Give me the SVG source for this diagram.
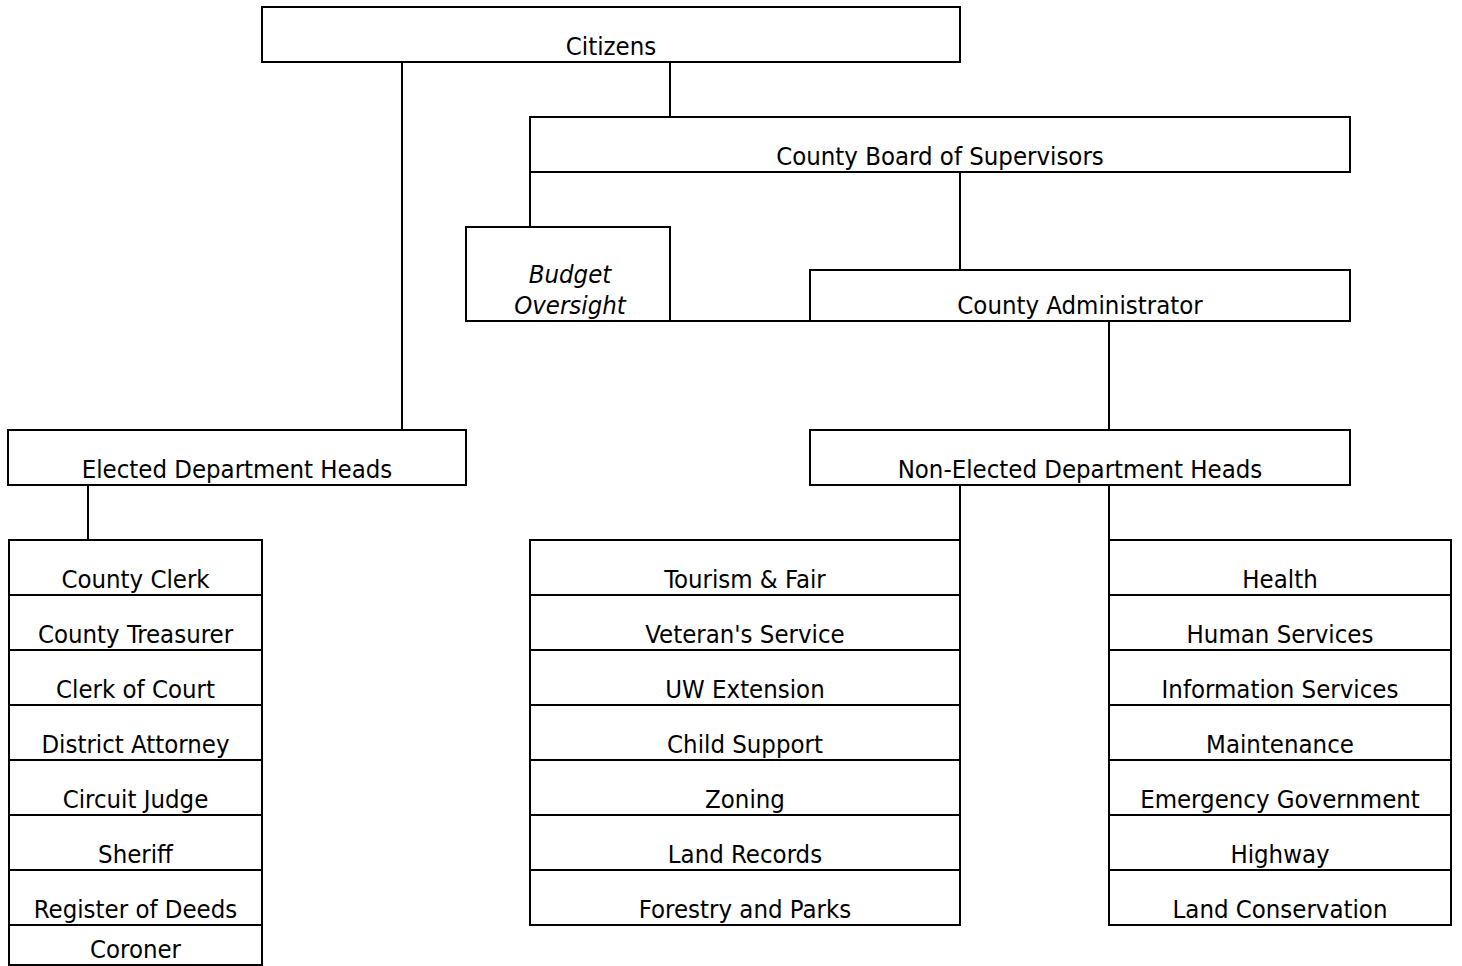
<svg xmlns="http://www.w3.org/2000/svg" width="1462" height="966" viewBox="0 0 1462 966">
<style>
.n{fill:#fff;stroke:#000;stroke-width:2}
line{stroke:#000;stroke-width:2}
text{font-family:"DejaVu Sans Condensed","DejaVu Sans",sans-serif;font-stretch:condensed;font-size:25.5px;fill:#000;text-anchor:middle}
.it{font-style:italic}
</style>
<rect width="1462" height="966" fill="#fff"/>
<g id="connectors">
<line x1="402" y1="62" x2="402" y2="430"/>
<line x1="670" y1="62" x2="670" y2="117"/>
<line x1="530" y1="172" x2="530" y2="227"/>
<line x1="960" y1="172" x2="960" y2="270"/>
<line x1="670" y1="321" x2="810" y2="321"/>
<line x1="1109" y1="321" x2="1109" y2="430"/>
<line x1="88" y1="485" x2="88" y2="540"/>
<line x1="960" y1="485" x2="960" y2="540"/>
<line x1="1109" y1="485" x2="1109" y2="540"/>
</g>
<g id="citizens"><rect class="n" x="262" y="7" width="698" height="55"/><text x="611" y="55">Citizens</text></g>
<g id="board"><rect class="n" x="530" y="117" width="820" height="55"/><text x="940" y="165">County Board of Supervisors</text></g>
<g id="budget"><rect class="n" x="466" y="227" width="204" height="94"/><text class="it" x="570" y="283">Budget</text><text class="it" x="570" y="314">Oversight</text></g>
<g id="admin"><rect class="n" x="810" y="270" width="540" height="51"/><text x="1080" y="314">County Administrator</text></g>
<g id="elected"><rect class="n" x="8" y="430" width="458" height="55"/><text x="237" y="478">Elected Department Heads</text></g>
<g id="nonelected"><rect class="n" x="810" y="430" width="540" height="55"/><text x="1080" y="478">Non-Elected Department Heads</text></g>
<g id="elected-list">
<rect class="n" x="9" y="540" width="253" height="55"/><text x="135.5" y="588">County Clerk</text>
<rect class="n" x="9" y="595" width="253" height="55"/><text x="135.5" y="643">County Treasurer</text>
<rect class="n" x="9" y="650" width="253" height="55"/><text x="135.5" y="698">Clerk of Court</text>
<rect class="n" x="9" y="705" width="253" height="55"/><text x="135.5" y="753">District Attorney</text>
<rect class="n" x="9" y="760" width="253" height="55"/><text x="135.5" y="808">Circuit Judge</text>
<rect class="n" x="9" y="815" width="253" height="55"/><text x="135.5" y="863">Sheriff</text>
<rect class="n" x="9" y="870" width="253" height="55"/><text x="135.5" y="918">Register of Deeds</text>
<rect class="n" x="9" y="925" width="253" height="40"/><text x="135.5" y="958">Coroner</text>
</g>
<g id="nonelected-list-1">
<rect class="n" x="530" y="540" width="430" height="55"/><text x="745" y="588">Tourism &amp; Fair</text>
<rect class="n" x="530" y="595" width="430" height="55"/><text x="745" y="643">Veteran's Service</text>
<rect class="n" x="530" y="650" width="430" height="55"/><text x="745" y="698">UW Extension</text>
<rect class="n" x="530" y="705" width="430" height="55"/><text x="745" y="753">Child Support</text>
<rect class="n" x="530" y="760" width="430" height="55"/><text x="745" y="808">Zoning</text>
<rect class="n" x="530" y="815" width="430" height="55"/><text x="745" y="863">Land Records</text>
<rect class="n" x="530" y="870" width="430" height="55"/><text x="745" y="918">Forestry and Parks</text>
</g>
<g id="nonelected-list-2">
<rect class="n" x="1109" y="540" width="342" height="55"/><text x="1280" y="588">Health</text>
<rect class="n" x="1109" y="595" width="342" height="55"/><text x="1280" y="643">Human Services</text>
<rect class="n" x="1109" y="650" width="342" height="55"/><text x="1280" y="698">Information Services</text>
<rect class="n" x="1109" y="705" width="342" height="55"/><text x="1280" y="753">Maintenance</text>
<rect class="n" x="1109" y="760" width="342" height="55"/><text x="1280" y="808">Emergency Government</text>
<rect class="n" x="1109" y="815" width="342" height="55"/><text x="1280" y="863">Highway</text>
<rect class="n" x="1109" y="870" width="342" height="55"/><text x="1280" y="918">Land Conservation</text>
</g>
</svg>
